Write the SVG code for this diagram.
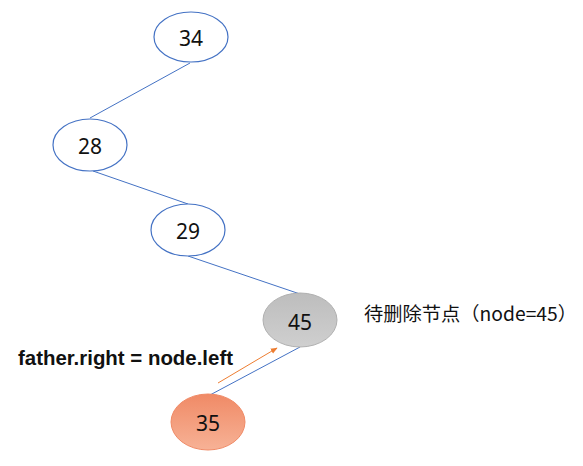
<svg xmlns="http://www.w3.org/2000/svg" width="583" height="466" viewBox="0 0 583 466">
<defs>
<style>
.node{fill:#fff;stroke:#4472c4;stroke-width:1.2}
.lbl{font-family:"Noto Sans","Liberation Sans",sans-serif;font-size:21px;fill:#111;text-anchor:middle;dominant-baseline:central}
.edge{stroke:#4472c4;stroke-width:1;fill:none}
</style>
<linearGradient id="gGray" x1="0" y1="0" x2="0" y2="1">
<stop offset="0" stop-color="#bdbdbd"/><stop offset="1" stop-color="#cfcfcf"/>
</linearGradient>
<linearGradient id="gOr" x1="0" y1="0" x2="0" y2="1">
<stop offset="0" stop-color="#f08a66"/><stop offset="1" stop-color="#f7b296"/>
</linearGradient>
<marker id="arr" viewBox="0 0 10 10" refX="9" refY="5" markerWidth="7" markerHeight="7" orient="auto" markerUnits="userSpaceOnUse">
<path d="M0,1 L10,5 L0,9 z" fill="#ed7d31"/>
</marker>
</defs>
<g id="connectors">
<line class="edge" x1="190" y1="63" x2="90" y2="118"/>
<line class="edge" x1="93" y1="171" x2="188" y2="204"/>
<line class="edge" x1="188" y1="256" x2="300" y2="294"/>
<line class="edge" x1="300" y1="347" x2="210" y2="395"/>
<line x1="218" y1="383" x2="277" y2="348" stroke="#ed7d31" stroke-width="1" marker-end="url(#arr)"/>
</g>
<g id="n34"><ellipse class="node" cx="191" cy="37" rx="37" ry="25"/><text class="lbl" x="191" y="38">34</text></g>
<g id="n28"><ellipse class="node" cx="90" cy="145" rx="37" ry="26"/><text class="lbl" x="90" y="146">28</text></g>
<g id="n29"><ellipse class="node" cx="188" cy="230" rx="37" ry="26"/><text class="lbl" x="188" y="231">29</text></g>
<g id="n45"><ellipse cx="300" cy="320" rx="37" ry="27" fill="url(#gGray)" stroke="#b0b0b0" stroke-width="1"/><text class="lbl" x="300" y="322">45</text></g>
<g id="n35"><ellipse cx="208" cy="422" rx="37" ry="28" fill="url(#gOr)" stroke="#f08a66" stroke-width="1"/><text class="lbl" x="208" y="423">35</text></g>
<text x="364" y="312" font-family="Noto Sans CJK SC, sans-serif" font-size="19" fill="#111" textLength="213" lengthAdjust="spacingAndGlyphs" dominant-baseline="central">待删除节点（node=45）</text>
<text x="18" y="358" font-family="Liberation Sans, sans-serif" font-size="20" font-weight="bold" fill="#111" textLength="215" lengthAdjust="spacingAndGlyphs" dominant-baseline="central">father.right = node.left</text>
</svg>
